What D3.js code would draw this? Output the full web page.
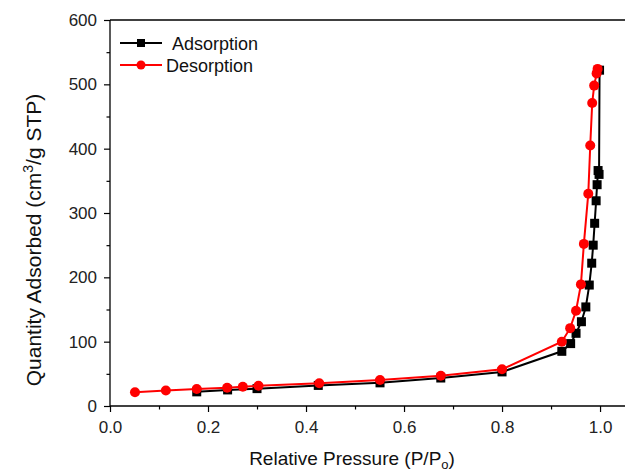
<!DOCTYPE html>
<html>
<head>
<meta charset="utf-8">
<script src="https://cdn.jsdelivr.net/npm/d3@7"></script>
<style>
  html, body { margin: 0; padding: 0; background: #fff; }
  svg { display: block; font-family: Arial, "Liberation Sans", sans-serif; }
</style>
</head>
<body>
<svg id="chart" width="625" height="473"></svg>
<script>
// ---- data ----
const adsorptionP = [0.177, 0.240, 0.300, 0.425, 0.551, 0.675, 0.800, 0.922, 0.940, 0.951, 0.962, 0.971, 0.978, 0.983, 0.986, 0.989, 0.992, 0.994, 0.996, 0.998, 0.999];
const adsorptionQ = [22, 25, 27, 32, 36, 43.5, 53, 85, 97, 113, 131, 154, 188, 222, 250, 284, 319, 344, 366, 360, 522];
const desorptionP = [0.995, 0.993, 0.988, 0.984, 0.980, 0.976, 0.967, 0.961, 0.951, 0.939, 0.922, 0.800, 0.675, 0.551, 0.427, 0.303, 0.271, 0.239, 0.177, 0.114, 0.051];
const desorptionQ = [524, 517, 498, 471, 405, 330, 252, 189, 148, 121, 100, 57, 47, 40.5, 35.5, 31.5, 30, 28.5, 26.5, 24, 21.5];
const xTicks = [0.0, 0.2, 0.4, 0.6, 0.8, 1.0];
const yTicks = [0, 100, 200, 300, 400, 500, 600];
const seriesNames = ["Adsorption", "Desorption"];

// ---- layout ----
const svg = d3.select("#chart");
const mLeft = 110, mRight = 627, mTop = 20, mBottom = 406;
const x = d3.scaleLinear().domain([0, 1.055]).range([mLeft, mRight]);
const y = d3.scaleLinear().domain([0, 600]).range([mBottom, mTop]);

// frame top
svg.append("line").attr("x1", mLeft).attr("x2", mRight).attr("y1", mTop).attr("y2", mTop)
  .attr("stroke", "#000").attr("stroke-width", 1.3);

// x axis
const xAxis = svg.append("g").attr("transform", `translate(0,${mBottom})`)
  .call(d3.axisBottom(x).tickValues(xTicks).tickFormat(d3.format(".1f")).tickSize(6).tickPadding(9));
svg.append("g").attr("transform", `translate(0,${mBottom})`)
  .call(d3.axisBottom(x).tickValues([0.1, 0.3, 0.5, 0.7, 0.9]).tickFormat("").tickSize(3.5))
  .select(".domain").remove();

// y axis
const yAxis = svg.append("g").attr("transform", `translate(${mLeft},0)`)
  .call(d3.axisLeft(y).tickValues(yTicks).tickFormat(d3.format("d")).tickSize(6).tickPadding(7));
svg.append("g").attr("transform", `translate(${mLeft},0)`)
  .call(d3.axisLeft(y).tickValues([50, 150, 250, 350, 450, 550]).tickFormat("").tickSize(3.5))
  .select(".domain").remove();

xAxis.select(".domain").attr("d", `M${mLeft},0H${mRight}`).attr("stroke-width", 1.3);
yAxis.select(".domain").attr("d", `M0,${mBottom}V${mTop}`).attr("stroke-width", 1.3);
svg.selectAll(".tick line").attr("stroke-width", 1.2);
svg.selectAll(".tick text").attr("font-size", 17).attr("fill", "#222")
  .attr("font-family", "Arial, 'Liberation Sans', sans-serif");

// axis titles
svg.append("text").attr("x", 352).attr("y", 465).attr("text-anchor", "middle")
  .attr("font-size", 19).attr("fill", "#111")
  .call(t => {
    t.append("tspan").text("Relative Pressure (P/P");
    t.append("tspan").attr("font-size", 13).attr("dy", 4).text("o");
    t.append("tspan").attr("dy", -4).text(")");
  });
svg.append("text").attr("transform", `translate(41,240) rotate(-90)`)
  .attr("text-anchor", "middle").attr("font-size", 21).attr("fill", "#111")
  .call(t => {
    t.append("tspan").text("Quantity Adsorbed (cm");
    t.append("tspan").attr("font-size", 14).attr("dy", -8).text("3");
    t.append("tspan").attr("dy", 8).text("/g STP)");
  });

// series
const ads = adsorptionP.map((p, i) => [p, adsorptionQ[i]]);
const des = desorptionP.map((p, i) => [p, desorptionQ[i]]);
const line = d3.line().x(d => x(d[0])).y(d => y(d[1]));

svg.append("path").datum(ads).attr("d", line).attr("fill", "none").attr("stroke", "#000").attr("stroke-width", 2);
svg.append("g").selectAll("rect").data(ads).join("rect")
  .attr("x", d => x(d[0]) - 4.5).attr("y", d => y(d[1]) - 4.5)
  .attr("width", 9).attr("height", 9).attr("fill", "#000");

svg.append("path").datum(des).attr("d", line).attr("fill", "none").attr("stroke", "#ff0000").attr("stroke-width", 2);
svg.append("g").selectAll("circle").data(des).join("circle")
  .attr("cx", d => x(d[0])).attr("cy", d => y(d[1])).attr("r", 5).attr("fill", "#ff0000");

// legend
const legend = svg.append("g");
const legendItems = [
  { name: seriesNames[0], color: "#000", shape: "square", yy: 43, tx: 172 },
  { name: seriesNames[1], color: "#ff0000", shape: "circle", yy: 65, tx: 166 }
];
legendItems.forEach(it => {
  legend.append("line").attr("x1", 120).attr("x2", 162).attr("y1", it.yy).attr("y2", it.yy)
    .attr("stroke", it.color).attr("stroke-width", 2);
  if (it.shape === "square") {
    legend.append("rect").attr("x", 141 - 4).attr("y", it.yy - 4).attr("width", 8).attr("height", 8).attr("fill", it.color);
  } else {
    legend.append("circle").attr("cx", 141).attr("cy", it.yy).attr("r", 4.5).attr("fill", it.color);
  }
  legend.append("text").attr("x", it.tx).attr("y", it.yy + 6.5).attr("font-size", 18).attr("fill", "#111").text(it.name);
});
</script>
</body>
</html>
